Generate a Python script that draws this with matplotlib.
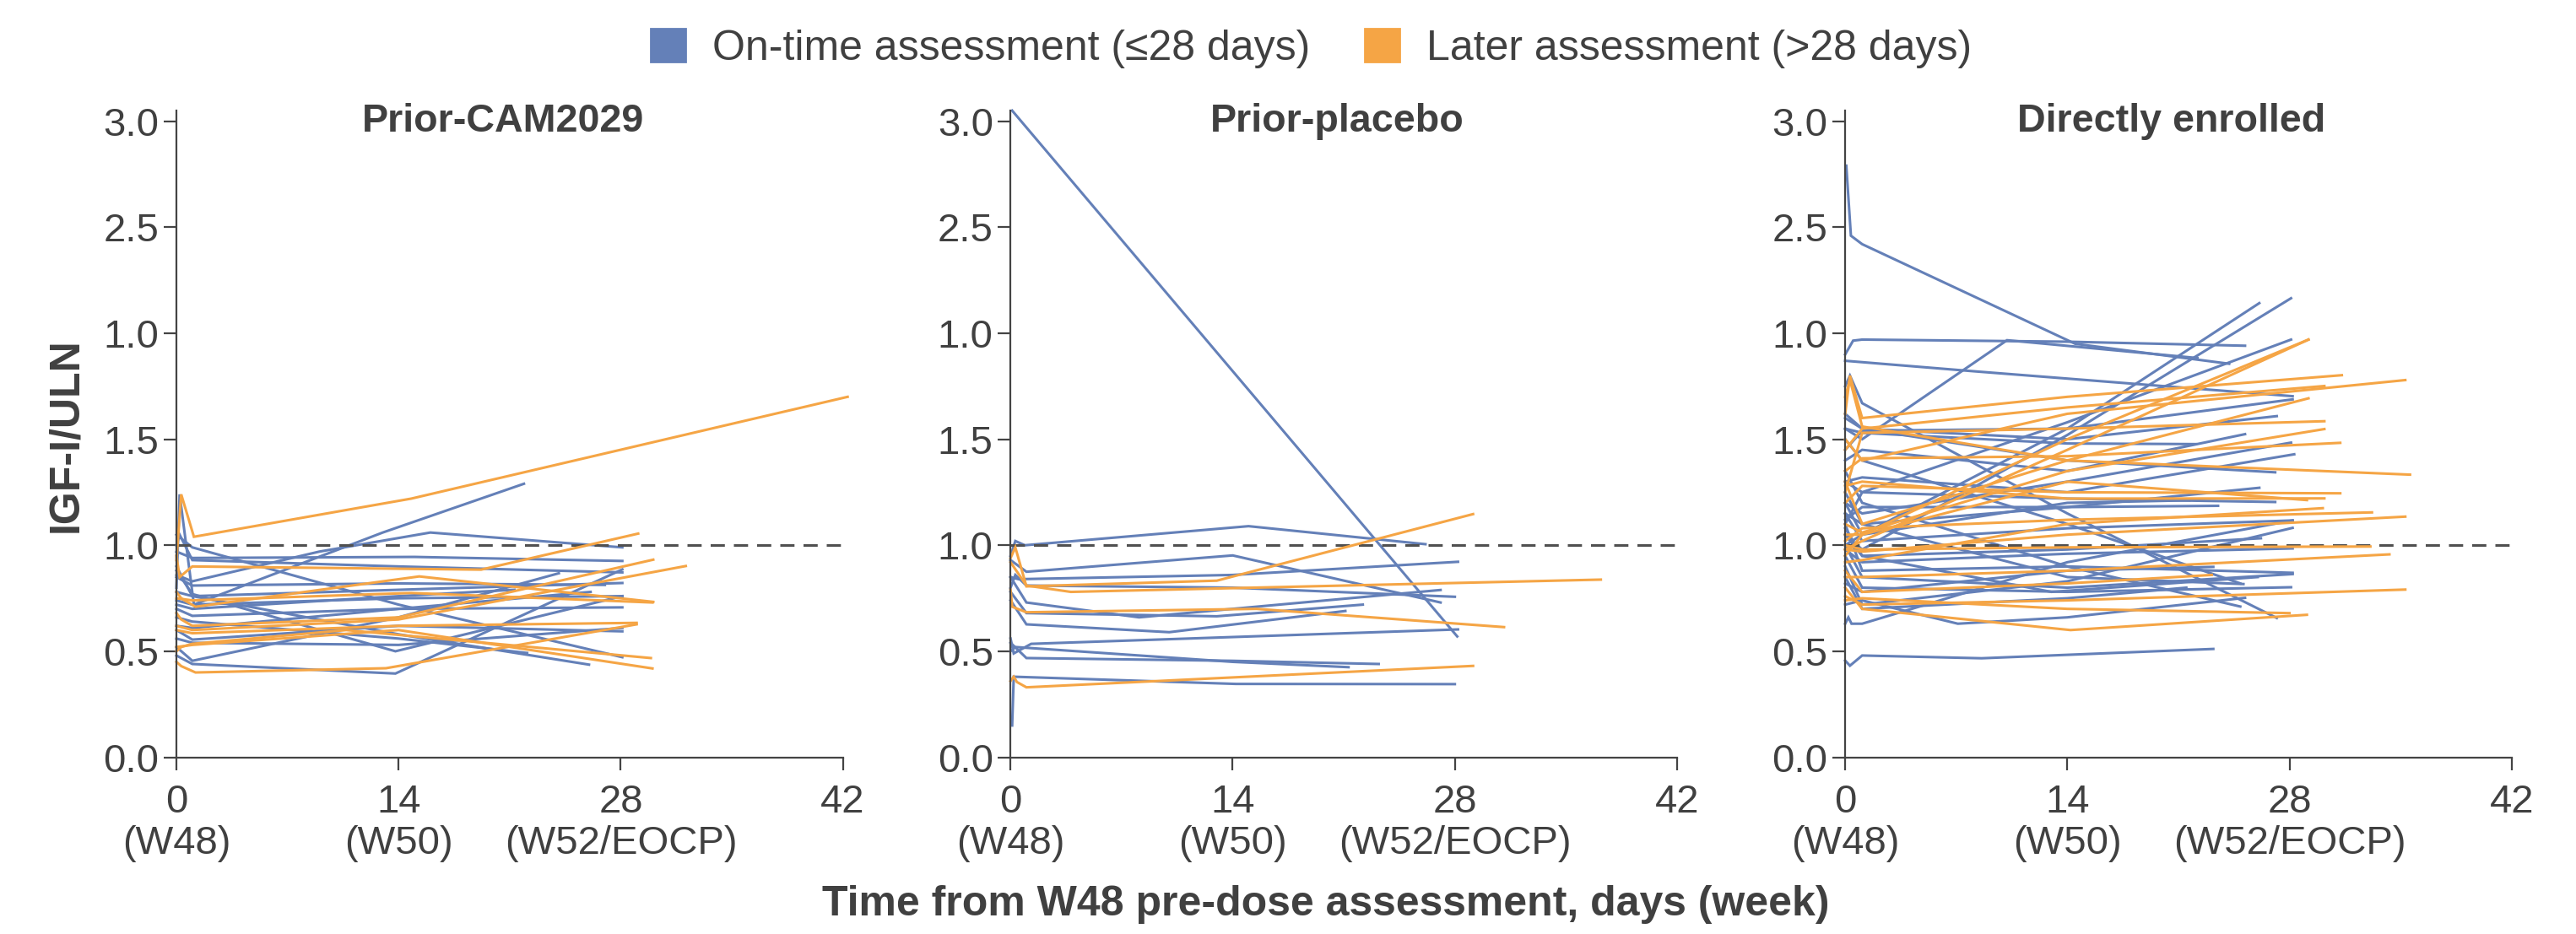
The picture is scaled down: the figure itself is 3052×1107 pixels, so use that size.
import matplotlib.pyplot as plt
from matplotlib.patches import Patch
from matplotlib import transforms

plt.rcParams['font.family'] = ['Liberation Sans', 'DejaVu Sans']

BLUE = '#6480B8'
ORANGE = '#F5A545'
TXT = '#404040'

# each subject: list of (day, IGF-I/ULN) points
cam_ontime = [
    [(0, 0.80), (0.2, 1.24), (1.1, 0.72), (13, 1.06), (21.9, 1.29)],
    [(0, 0.86), (1, 0.83), (9, 0.97), (16, 1.06), (28.1, 0.99)],
    [(0, 0.97), (1, 0.94), (15, 0.945), (28.1, 0.926)],
    [(0, 1.00), (0.2, 1.05), (1, 0.93), (14, 0.90), (28.1, 0.872)],
    [(0, 1.05), (1, 0.99), (14, 0.72), (28.1, 0.472)],
    [(0, 0.85), (1, 0.81), (14, 0.82), (27, 0.813)],
    [(0, 0.78), (1, 0.76), (14, 0.79), (28.1, 0.822)],
    [(0, 0.74), (1, 0.72), (14, 0.75), (28.1, 0.76)],
    [(0, 0.70), (1, 0.667), (14, 0.70), (28.1, 0.707)],
    [(0, 0.88), (1, 0.77), (13.8, 0.50), (28.1, 0.76)],
    [(0, 0.48), (1, 0.44), (13.8, 0.395), (28.1, 0.886)],
    [(0, 0.66), (1, 0.64), (14, 0.56), (22.1, 0.492)],
    [(0, 0.60), (1, 0.555), (14, 0.62), (28.1, 0.594)],
    [(0, 0.90), (1, 0.76), (14, 0.58), (26, 0.437)],
    [(0, 0.52), (1, 0.455), (14, 0.66), (24.1, 0.868)],
    [(0, 0.62), (1, 0.61), (14, 0.70), (26.1, 0.78)],
    [(0, 0.72), (1, 0.70), (14, 0.76), (21.3, 0.79)],
    [(0, 0.56), (1, 0.54), (14, 0.53), (28.1, 0.61)],
]
cam_later = [
    [(0, 0.93), (0.3, 1.24), (1.1, 1.04), (14.8, 1.22), (42.3, 1.70)],
    [(0, 0.95), (0.2, 0.85), (1, 0.90), (19.2, 0.885), (29.1, 1.055)],
    [(0, 0.78), (0.3, 0.75), (1.2, 0.71), (15.3, 0.853), (30.05, 0.733)],
    [(0, 0.75), (1, 0.74), (14.8, 0.775), (30, 0.73)],
    [(0, 0.68), (0.3, 0.65), (1, 0.62), (14, 0.66), (30.05, 0.932)],
    [(0, 0.62), (1, 0.60), (14, 0.65), (32.1, 0.902)],
    [(0, 0.60), (1, 0.585), (14, 0.62), (29, 0.634)],
    [(0, 0.50), (0.3, 0.52), (1, 0.535), (10.7, 0.60), (29.9, 0.468)],
    [(0, 0.45), (0.3, 0.43), (1.2, 0.40), (13.2, 0.42), (29, 0.627)],
    [(0, 0.52), (1, 0.53), (14, 0.60), (30, 0.419)],
]

pbo_ontime = [
    [(0.1, 3.05), (28.15, 0.57)],
    [(0, 0.95), (0.3, 1.02), (0.9, 1.0), (15, 1.09), (26.15, 1.005)],
    [(0, 0.93), (1, 0.875), (14, 0.952), (27.1, 0.73)],
    [(0, 0.85), (0.5, 0.84), (14, 0.86), (28.2, 0.922)],
    [(0, 0.80), (0.3, 0.86), (1, 0.81), (14, 0.80), (28, 0.757)],
    [(0, 0.85), (1, 0.73), (8.1, 0.66), (27.1, 0.789)],
    [(0, 0.78), (1, 0.68), (13, 0.665), (22.2, 0.72)],
    [(0, 0.74), (1, 0.627), (10, 0.59), (21.1, 0.69)],
    [(0.1, 0.15), (0.2, 0.38), (14.2, 0.346), (28, 0.345)],
    [(0, 0.56), (0.2, 0.49), (1.3, 0.535), (28.2, 0.603)],
    [(0, 0.54), (1, 0.468), (14, 0.455), (23.2, 0.44)],
    [(0, 0.50), (0.3, 0.52), (14, 0.45), (21.3, 0.425)],
]
pbo_later = [
    [(0, 0.94), (0.3, 0.99), (1, 0.806), (13, 0.833), (29.15, 1.147)],
    [(0, 0.92), (1, 0.81), (3.8, 0.78), (37.2, 0.838)],
    [(0, 0.79), (0.1, 0.71), (1, 0.684), (15.5, 0.70), (31.1, 0.614)],
    [(0, 0.36), (0.2, 0.38), (0.4, 0.355), (1, 0.33), (29.15, 0.431)],
]

direct_ontime = [
    [(0.07, 2.79), (0.36, 2.46), (1.07, 2.42), (14.5, 1.95), (24.2, 1.856)],
    [(0, 1.90), (0.5, 1.965), (1.07, 1.97), (14, 1.96), (25.2, 1.941)],
    [(0, 1.87), (8.2, 1.82), (28.2, 1.703)],
    [(0, 1.55), (1.07, 1.50), (10.2, 1.967), (22.2, 1.883)],
    [(0, 1.20), (1.07, 1.05), (14, 1.55), (26.1, 2.142)],
    [(0, 1.05), (1.07, 0.98), (14, 1.52), (28.1, 2.165)],
    [(0, 1.30), (1.07, 1.25), (14, 1.58), (28.1, 1.97)],
    [(0, 1.75), (0.3, 1.80), (1.07, 1.67), (14, 1.15), (27.2, 0.657)],
    [(0, 0.456), (0.3, 0.432), (1.07, 0.48), (8.6, 0.467), (23.2, 0.511)],
    [(0, 0.63), (0.2, 0.66), (0.4, 0.63), (1.07, 0.63), (14, 0.92), (28.2, 1.117)],
    [(0, 0.72), (1.07, 0.74), (7.1, 0.63), (14, 0.66), (25.2, 0.752)],
    [(0, 1.10), (1.07, 0.88), (14, 0.90), (28.2, 0.87)],
    [(0, 1.00), (1.07, 0.85), (14, 0.80), (28.2, 0.864)],
    [(0, 0.95), (1.07, 0.80), (14, 0.78), (28.1, 0.802)],
    [(0, 1.25), (1.07, 1.10), (14, 0.85), (25.1, 0.817)],
    [(0, 1.35), (1.07, 1.20), (14, 0.90), (24.9, 0.711)],
    [(0, 0.90), (1.07, 0.72), (14, 0.83), (28.2, 1.082)],
    [(0, 1.15), (1.07, 1.02), (14, 1.08), (28.2, 1.117)],
    [(0, 1.05), (1.07, 0.95), (14, 0.98), (26.2, 1.033)],
    [(0, 0.98), (1.07, 0.92), (14, 0.96), (28.2, 0.985)],
    [(0, 0.82), (1.07, 0.78), (14, 0.88), (23.2, 0.898)],
    [(0, 1.45), (1.07, 1.54), (14, 1.55), (28.2, 1.688)],
    [(0, 1.60), (1.07, 1.55), (14, 1.50), (27.2, 1.609)],
    [(0, 1.40), (1.07, 1.45), (14, 1.35), (25.2, 1.524)],
    [(0, 1.55), (1.07, 1.53), (14, 1.48), (22.1, 1.477)],
    [(0, 1.20), (1.07, 1.15), (14, 1.30), (28.1, 1.484)],
    [(0, 1.30), (1.07, 1.32), (14, 1.25), (28.3, 1.429)],
    [(0, 1.62), (1.07, 1.55), (14, 1.40), (27.1, 1.344)],
    [(0, 1.15), (1.07, 1.10), (14, 1.18), (26.1, 1.271)],
    [(0, 1.00), (1.07, 1.05), (14, 1.20), (21.7, 1.212)],
    [(0, 1.10), (1.07, 1.25), (14, 1.22), (27.1, 1.204)],
    [(0, 1.12), (1.07, 1.18), (14, 1.18), (23.5, 1.186)],
    [(0, 0.85), (1.07, 0.70), (14, 0.75), (21.5, 0.80)],
    [(0, 1.08), (1.07, 0.95), (13, 0.78), (26, 0.85)],
    [(0, 1.50), (1.07, 1.40), (14, 1.10), (24.9, 0.82)],
]
direct_later = [
    [(0, 1.05), (1.07, 1.05), (14, 1.50), (29.2, 1.97)],
    [(0, 0.98), (1.07, 1.02), (14, 1.45), (29.2, 1.97)],
    [(0, 1.62), (0.3, 1.80), (1.07, 1.60), (14, 1.70), (31.3, 1.802)],
    [(0, 1.50), (1.07, 1.40), (14, 1.62), (35.3, 1.779)],
    [(0, 1.45), (1.07, 1.55), (14, 1.65), (30.2, 1.751)],
    [(0, 1.30), (1.07, 1.10), (14, 1.40), (29.2, 1.693)],
    [(0, 1.25), (1.07, 1.53), (14, 1.55), (30.2, 1.585)],
    [(0, 1.10), (1.07, 1.06), (14, 1.35), (30.2, 1.548)],
    [(0, 1.35), (1.07, 1.41), (14, 1.42), (31.2, 1.483)],
    [(0, 1.70), (0.3, 1.78), (1.07, 1.56), (14, 1.40), (35.6, 1.333)],
    [(0, 1.20), (1.07, 1.28), (14, 1.25), (31.2, 1.245)],
    [(0, 1.28), (1.07, 1.30), (14, 1.22), (30.2, 1.221)],
    [(0, 0.95), (1.07, 1.05), (14, 1.30), (29.1, 1.213)],
    [(0, 0.92), (1.07, 0.93), (14, 1.10), (30.1, 1.175)],
    [(0, 1.02), (1.07, 1.08), (14, 1.12), (33.2, 1.155)],
    [(0, 0.98), (1.07, 0.97), (14, 1.05), (35.3, 1.135)],
    [(0, 1.00), (1.07, 0.98), (14, 0.99), (33.1, 0.994)],
    [(0, 0.85), (1.07, 0.85), (14, 0.88), (34.3, 0.957)],
    [(0, 0.76), (1.07, 0.72), (14, 0.74), (35.3, 0.791)],
    [(0, 0.80), (1.07, 0.70), (14.2, 0.60), (29.1, 0.672)],
    [(0, 0.88), (1.07, 0.78), (14, 0.82), (23.1, 0.86)],
    [(0, 0.74), (1.07, 0.75), (14, 0.70), (28, 0.68)],
]

panel_titles = ['Prior-CAM2029', 'Prior-placebo', 'Directly enrolled']
ontime_sets = [cam_ontime, pbo_ontime, direct_ontime]
later_sets = [cam_later, pbo_later, direct_later]

ytick_vals = [0, 0.5, 1.0, 1.5, 2.0, 2.5, 3.0]
ytick_labels = ['0.0', '0.5', '1.0', '1.5', '1.0', '2.5', '3.0']
xtick_vals = [0, 14, 28, 42]
xtick_labels = ['0\n(W48)', '14\n(W50)', '28\n(W52/EOCP)', '42']

fig = plt.figure(figsize=(15.26, 5.535), dpi=200)
lefts = [0.0685, 0.3923, 0.7163]

for left, title, ontime, later in zip(lefts, panel_titles, ontime_sets, later_sets):
    ax = fig.add_axes([left, 0.1892, 0.2587, 0.6924])
    for line in ontime:
        xs, ys = zip(*line)
        ax.plot(xs, ys, color=BLUE, lw=1.1, clip_on=False, solid_joinstyle='miter')
    ax.plot([0, 42], [1, 1], color='#505050', lw=1.1, ls=(0, (5.5, 3.5)))
    for line in later:
        xs, ys = zip(*line)
        ax.plot(xs, ys, color=ORANGE, lw=1.1, clip_on=False, solid_joinstyle='miter')

    ax.set_xlim(0, 42)
    ax.set_ylim(0, 3.05)
    for s in ['top', 'right']:
        ax.spines[s].set_visible(False)
    for s in ['left', 'bottom']:
        ax.spines[s].set_color('#444444')
        ax.spines[s].set_linewidth(0.8)
    ax.set_yticks(ytick_vals)
    ax.set_yticklabels(ytick_labels)
    ax.set_xticks(xtick_vals)
    ax.set_xticklabels(xtick_labels, linespacing=1.15)
    ax.tick_params(length=5.4, width=0.8, color='#444444', labelsize=17,
                   labelcolor=TXT)
    ax.tick_params(axis='y', pad=2)
    ax.tick_params(axis='x', pad=6)

    trans = transforms.blended_transform_factory(ax.transAxes, ax.transData)
    ax.text(0.49, 3.0, title, transform=trans, ha='center', va='center',
            fontsize=16.8, fontweight='bold', color=TXT)

handles = [Patch(color=BLUE, label='On-time assessment (\u226428 days)'),
           Patch(color=ORANGE, label='Later assessment (>28 days)')]
fig.legend(handles=handles, loc='center', bbox_to_anchor=(0.509, 0.948),
           ncol=2, frameon=False, fontsize=18, handlelength=0.82,
           handleheight=0.82, handletextpad=0.63, columnspacing=1.3,
           labelcolor=TXT)

fig.text(0.0256, 0.534, 'IGF-I/ULN', rotation=90, ha='center', va='center',
         fontsize=18, fontweight='bold', color=TXT)
fig.text(0.5146, 0.032, 'Time from W48 pre-dose assessment, days (week)',
         ha='center', va='center', fontsize=18, fontweight='bold', color=TXT)

fig.savefig('out.png', dpi=200)
